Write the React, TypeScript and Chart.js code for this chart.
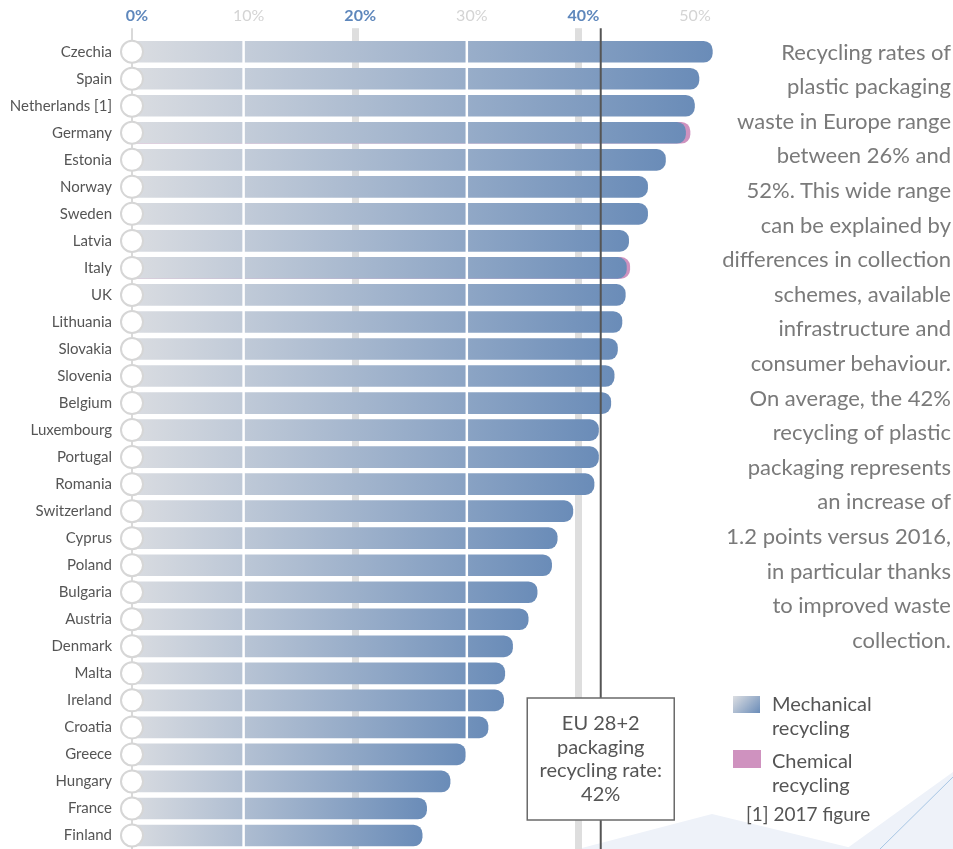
import React, { useEffect, useRef } from "react";
import { Chart, registerables } from "chart.js";

Chart.register(...registerables);

const countries = [
  "Czechia", "Spain", "Netherlands [1]", "Germany", "Estonia", "Norway", "Sweden", "Latvia",
  "Italy", "UK", "Lithuania", "Slovakia", "Slovenia", "Belgium", "Luxembourg", "Portugal",
  "Romania", "Switzerland", "Cyprus", "Poland", "Bulgaria", "Austria", "Denmark", "Malta",
  "Ireland", "Croatia", "Greece", "Hungary", "France", "Finland",
];
const mechanicalRecycling = [
  52.0, 50.8, 50.4, 49.6, 47.8, 46.2, 46.2, 44.5,
  44.3, 44.2, 43.9, 43.5, 43.2, 42.9, 41.8, 41.8,
  41.4, 39.5, 38.1, 37.6, 36.3, 35.5, 34.1, 33.4,
  33.3, 31.9, 29.9, 28.5, 26.4, 26.0,
];
const chemicalRecycling = [
  0, 0, 0, 0.4, 0, 0, 0, 0,
  0.3, 0, 0, 0, 0, 0, 0, 0,
  0, 0, 0, 0, 0, 0, 0, 0,
  0, 0, 0, 0, 0, 0,
];
const xTickValues = [0, 10, 20, 30, 40, 50];
const euAverage = 42;
const euBoxLines = ["EU 28+2", "packaging", "recycling rate:", "42%"];
const paragraphLines = [
  "Recycling rates of", "plastic packaging", "waste in Europe range", "between 26% and",
  "52%. This wide range", "can be explained by", "differences in collection", "schemes, available",
  "infrastructure and", "consumer behaviour.", "On average, the 42%", "recycling of plastic",
  "packaging represents", "an increase of", "1.2 points versus 2016,", "in particular thanks",
  "to improved waste", "collection.",
];

const FONT = "Lato, 'Open Sans', sans-serif";
const BLUE = "#6a8cb8";
const LIGHT = "#dcdee2";
const PINK = "#cf92bf";

const chemicalTotals = mechanicalRecycling.map((m, i) =>
  chemicalRecycling[i] > 0 ? m + chemicalRecycling[i] : null
);

const overlayPlugin = {
  id: "overlay",
  beforeDraw(chart: any) {
    const ctx = chart.ctx;
    ctx.save();
    ctx.fillStyle = "#eef2f9";
    ctx.beginPath();
    ctx.moveTo(578, 849);
    ctx.lineTo(712, 814);
    ctx.lineTo(856, 849);
    ctx.closePath();
    ctx.fill();
    ctx.beginPath();
    ctx.moveTo(846, 849);
    ctx.lineTo(953, 772);
    ctx.lineTo(953, 849);
    ctx.closePath();
    ctx.fill();
    ctx.strokeStyle = "#a7c6e4";
    ctx.lineWidth = 1;
    ctx.beginPath();
    ctx.moveTo(880, 849);
    ctx.lineTo(953, 777);
    ctx.stroke();
    ctx.restore();
  },
  afterDatasetsDraw(chart: any) {
    const ctx = chart.ctx;
    const xs = chart.scales.x;
    const ys = chart.scales.y;
    const { top, bottom } = chart.chartArea;
    ctx.save();
    ctx.strokeStyle = "#ffffff";
    ctx.lineWidth = 2.5;
    [10, 30].forEach((v) => {
      const px = xs.getPixelForValue(v);
      ctx.beginPath();
      ctx.moveTo(px, top);
      ctx.lineTo(px, bottom);
      ctx.stroke();
    });
    const x0 = xs.getPixelForValue(0);
    countries.forEach((_, i) => {
      const py = ys.getPixelForTick(i);
      ctx.beginPath();
      ctx.arc(x0, py, 11, 0, Math.PI * 2);
      ctx.fillStyle = "#ffffff";
      ctx.fill();
      ctx.strokeStyle = "#d6d6d6";
      ctx.lineWidth = 2;
      ctx.stroke();
    });
    const ex = xs.getPixelForValue(euAverage);
    ctx.strokeStyle = "#555555";
    ctx.lineWidth = 2;
    ctx.beginPath();
    ctx.moveTo(ex, top - 10);
    ctx.lineTo(ex, bottom);
    ctx.stroke();
    const bw = 147;
    const bx = ex - bw / 2;
    const by = 698;
    const bh = 122;
    ctx.fillStyle = "#ffffff";
    ctx.fillRect(bx, by, bw, bh);
    ctx.strokeStyle = "#6a6a6a";
    ctx.lineWidth = 1.5;
    ctx.strokeRect(bx, by, bw, bh);
    ctx.fillStyle = "#555555";
    ctx.font = `20px ${FONT}`;
    ctx.textAlign = "center";
    ctx.textBaseline = "middle";
    euBoxLines.forEach((line, i) => {
      ctx.fillText(line, ex, 724 + i * 23.5);
    });
    ctx.restore();
  },
};

export default function App() {
  const canvasRef = useRef<HTMLCanvasElement | null>(null);

  useEffect(() => {
    if (!canvasRef.current) return;
    const chart = new Chart(canvasRef.current, {
      type: "bar",
      data: {
        labels: countries,
        datasets: [
          {
            label: "Mechanical recycling",
            data: mechanicalRecycling,
            order: 0,
            grouped: false,
            barThickness: 21,
            borderRadius: 9,
            borderSkipped: "start",
            backgroundColor: (c: any) => {
              const chart = c.chart;
              const xs = chart.scales && chart.scales.x;
              if (!xs || c.type !== "data" || typeof c.raw !== "number") return "#8aa3c6";
              const x0 = xs.getPixelForValue(0) - 11;
              const x1 = xs.getPixelForValue(c.raw);
              if (!isFinite(x0) || !isFinite(x1)) return "#8aa3c6";
              const g = chart.ctx.createLinearGradient(x0, 0, x1, 0);
              g.addColorStop(0, LIGHT);
              g.addColorStop(1, BLUE);
              return g;
            },
          } as any,
          {
            label: "Chemical recycling",
            data: chemicalTotals,
            order: 1,
            grouped: false,
            barThickness: 21,
            borderRadius: 9,
            borderSkipped: "start",
            backgroundColor: PINK,
          } as any,
        ],
      },
      options: {
        indexAxis: "y",
        responsive: false,
        animation: false,
        layout: { padding: { top: 3, right: 229.5, bottom: 0, left: 0 } },
        plugins: {
          legend: { display: false },
          tooltip: { enabled: false },
        },
        scales: {
          x: {
            type: "linear",
            position: "top",
            min: 0,
            max: 53,
            border: { display: false },
            afterBuildTicks: (scale: any) => {
              scale.ticks = xTickValues.map((v) => ({ value: v }));
            },
            ticks: {
              includeBounds: false,
              stepSize: 10,
              padding: 3,
              labelOffset: 5,
              callback: (v: any) => `${v}%`,
              color: (c: any) => (c.tick && c.tick.value % 20 === 0 ? "#5e87bc" : "#d4d4d4"),
              font: (c: any) => ({
                family: FONT,
                size: 16,
                weight: c.tick && c.tick.value % 20 === 0 ? "bold" : "normal",
              }),
            },
            grid: {
              drawOnChartArea: true,
              drawTicks: true,
              tickLength: 10,
              color: (c: any) => {
                const v = c.tick ? c.tick.value : -1;
                if (v === 0) return "#d9d9d9";
                if (v === 20 || v === 40) return "#dedede";
                return "rgba(0,0,0,0)";
              },
              lineWidth: (c: any) => {
                const v = c.tick ? c.tick.value : -1;
                if (v === 0) return 2;
                if (v === 20 || v === 40) return 7;
                return 1;
              },
            },
          },
          y: {
            type: "category",
            border: { display: false },
            grid: { display: false, drawTicks: false },
            afterFit: (scale: any) => {
              scale.width = 132;
              scale.paddingTop = 0;
              scale.paddingBottom = 0;
            },
            ticks: {
              padding: 20,
              color: "#555555",
              font: { family: FONT, size: 15 },
            },
          },
        },
      },
      plugins: [overlayPlugin],
    } as any);
    return () => chart.destroy();
  }, []);

  const textStyle: React.CSSProperties = {
    fontFamily: FONT,
    color: "#555555",
    fontSize: 20,
    lineHeight: "24px",
    position: "absolute",
    whiteSpace: "nowrap",
  };

  return (
    <div
      style={{
        position: "fixed",
        left: 0,
        top: 0,
        width: 953,
        height: 849,
        background: "#ffffff",
        overflow: "hidden",
      }}
    >
      <canvas
        ref={canvasRef}
        width={953}
        height={849}
        style={{ position: "absolute", left: 0, top: 0, width: 953, height: 849 }}
      />
      <div
        style={{
          position: "absolute",
          right: 2,
          top: 34.7,
          textAlign: "right",
          fontFamily: FONT,
          fontSize: 22,
          lineHeight: "34.6px",
          color: "#7a7a7a",
          whiteSpace: "nowrap",
        }}
      >
        {paragraphLines.map((l, i) => (
          <div key={i}>{l}</div>
        ))}
      </div>
      <div
        style={{
          position: "absolute",
          left: 733,
          top: 696,
          width: 27,
          height: 17,
          background: `linear-gradient(135deg, ${LIGHT}, ${BLUE})`,
        }}
      />
      <div style={{ ...textStyle, left: 772, top: 691 }}>
        Mechanical
        <br />
        recycling
      </div>
      <div
        style={{ position: "absolute", left: 733, top: 750, width: 28, height: 18, background: PINK }}
      />
      <div style={{ ...textStyle, left: 772, top: 748 }}>
        Chemical
        <br />
        recycling
      </div>
      <div style={{ ...textStyle, fontSize: 19, left: 746, top: 802 }}>[1] 2017 figure</div>
    </div>
  );
}
